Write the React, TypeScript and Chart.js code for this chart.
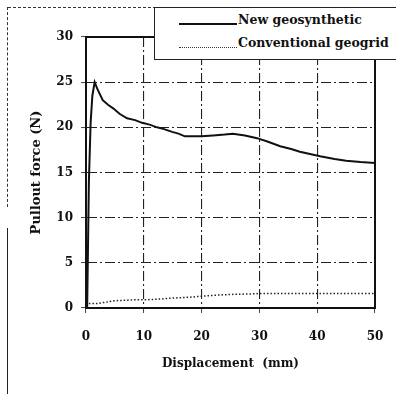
import React, { useEffect, useRef } from "react";
import { Chart, registerables } from "chart.js";

Chart.register(...registerables);

// Pullout test curves: displacement (mm) vs pullout force (N)
const newDisp = [0.2, 0.5, 0.8, 1.1, 1.5, 2.0, 2.9, 3.8, 4.7, 5.8, 7.1, 8.5, 9.7, 11.0, 12.3, 13.5, 14.9, 16.0, 17.1, 18.5, 20.0, 22.0, 24.0, 25.4, 27.5, 29.6, 31.5, 33.6, 35.5, 37.0, 40.5, 43.0, 45.0, 47.5, 50.0];
const newForce = [0, 14, 20.5, 23.5, 25.0, 24.2, 23.0, 22.5, 22.1, 21.5, 21.0, 20.8, 20.5, 20.3, 20.0, 19.8, 19.5, 19.3, 19.0, 19.0, 19.0, 19.1, 19.2, 19.3, 19.1, 18.8, 18.4, 17.9, 17.6, 17.3, 16.8, 16.5, 16.3, 16.15, 16.05];

const convDisp = [0.5, 2, 3, 5, 8, 10, 13, 15, 18, 20, 22, 25, 28, 30, 35, 40, 45, 50];
const convForce = [0.5, 0.5, 0.6, 0.8, 0.9, 0.9, 1.0, 1.1, 1.2, 1.3, 1.4, 1.5, 1.55, 1.6, 1.6, 1.6, 1.6, 1.6];

const seriesNames = ["New geosynthetic", "Conventional geogrid"];
const xTitle = "Displacement  (mm)";
const yTitle = "Pullout force (N)";

const FONT = "'DejaVu Serif', 'Liberation Serif', serif";

const frameBox = {
  id: "frameBox",
  afterDraw(chart: any) {
    const { ctx, chartArea } = chart;
    ctx.save();
    ctx.strokeStyle = "#111";
    ctx.lineWidth = 2;
    ctx.strokeRect(chartArea.left, chartArea.top, chartArea.right - chartArea.left, chartArea.bottom - chartArea.top);
    ctx.restore();
  },
};

export default function App() {
  const ref = useRef<HTMLCanvasElement | null>(null);

  useEffect(() => {
    if (!ref.current) return;
    const chart = new Chart(ref.current, {
      type: "line",
      data: {
        datasets: [
          {
            label: seriesNames[0],
            data: newDisp.map((x, i) => ({ x, y: newForce[i] })),
            borderColor: "#111",
            borderWidth: 2,
            pointRadius: 0,
            tension: 0,
          },
          {
            label: seriesNames[1],
            data: convDisp.map((x, i) => ({ x, y: convForce[i] })),
            borderColor: "#222",
            borderWidth: 1.5,
            borderDash: [1.5, 2],
            pointRadius: 0,
            tension: 0,
          },
        ],
      },
      options: {
        responsive: false,
        animation: false,
        layout: { padding: { top: 37, right: 21, left: 0, bottom: 0 } },
        plugins: { legend: { display: false }, tooltip: { enabled: false } },
        scales: {
          x: {
            type: "linear",
            min: 0,
            max: 50,
            afterFit: (s: any) => {
              s.height = 86;
              s.paddingLeft = 0;
              s.paddingRight = 0;
            },
            ticks: { stepSize: 10, color: "#111", padding: 17, font: { family: FONT, size: 12, weight: "bold" } },
            grid: { color: "#222", lineWidth: 1.1, tickLength: 5, tickColor: "#444", tickWidth: 1 },
            border: { color: "#111", width: 2, dash: [10, 3, 2, 3] },
            title: { display: true, text: xTitle, color: "#111", font: { family: FONT, size: 12, weight: "bold" }, padding: { top: 0, bottom: 23 } },
          },
          y: {
            min: 0,
            max: 30,
            afterFit: (s: any) => {
              s.width = 86;
              s.paddingTop = 0;
              s.paddingBottom = 0;
            },
            ticks: { stepSize: 5, color: "#111", padding: 8, font: { family: FONT, size: 12, weight: "bold" } },
            grid: { color: "#222", lineWidth: 1.1, tickLength: 5, tickColor: "#444", tickWidth: 1 },
            border: { color: "#111", width: 2, dash: [10, 3, 2, 3] },
            title: { display: true, text: yTitle, color: "#111", font: { family: FONT, size: 13, weight: "bold" }, padding: { top: 29, bottom: 0 } },
          },
        },
      },
      plugins: [frameBox],
    });
    return () => chart.destroy();
  }, []);

  return (
    <div style={{ position: "fixed", left: 0, top: 0, width: 396, height: 394, background: "#fff", overflow: "hidden" }}>
      <canvas ref={ref} width={396} height={394} style={{ position: "absolute", left: 0, top: 0 }} />
      {/* outer figure frame */}
      <div style={{ position: "absolute", left: 8, top: 7, width: 388, height: 0, borderTop: "1.5px dashed #333" }} />
      <div style={{ position: "absolute", left: 7, top: 7, width: 0, height: 200, borderLeft: "1.5px dashed #333" }} />
      <div style={{ position: "absolute", left: 7, top: 228, width: 0, height: 166, borderLeft: "1.5px solid #222" }} />
      {/* legend */}
      <div
        style={{
          position: "absolute",
          left: 154,
          top: 7,
          width: 250,
          height: 51,
          background: "#fff",
          borderLeft: "1.5px solid #222",
          borderBottom: "1.5px solid #222",
          borderTop: "1.5px solid #222",
          fontFamily: FONT,
          fontSize: 12.5,
          fontWeight: "bold",
          color: "#111",
        }}
      >
        <div style={{ position: "absolute", left: 24, top: 15, width: 58, borderTop: "2px solid #111" }} />
        <div style={{ position: "absolute", left: 83, top: 4, whiteSpace: "nowrap" }}>{seriesNames[0]}</div>
        <div style={{ position: "absolute", left: 24, top: 39, width: 58, borderTop: "1.5px dotted #333" }} />
        <div style={{ position: "absolute", left: 83, top: 27, whiteSpace: "nowrap" }}>{seriesNames[1]}</div>
      </div>
    </div>
  );
}
